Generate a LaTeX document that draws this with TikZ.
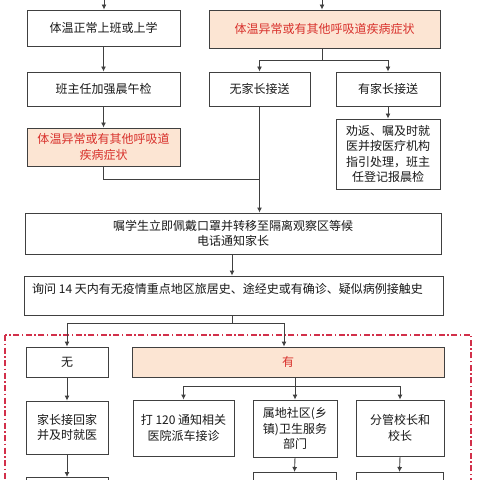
\documentclass[tikz,border=0pt]{standalone}
\usepackage{fontspec}
\setmainfont{Noto Sans CJK SC}
\usetikzlibrary{arrows.meta}
\definecolor{bordergray}{HTML}{404040}
\definecolor{redtext}{HTML}{D8302B}
\definecolor{peach}{HTML}{FCE5D3}
\definecolor{dashred}{HTML}{D2304A}
\tikzset{
  box/.style={draw=bordergray, line width=0.9bp, fill=white, inner sep=0pt, align=center,
    font=\fontsize{12bp}{15.5bp}\selectfont, text=black!90},
  redbox/.style={box, fill=peach, text=redtext},
  conn/.style={draw=bordergray, line width=0.9bp},
  arr/.style={conn, -{Latex[length=5bp,width=5bp]}},
  txt/.style={inner sep=0pt, font=\fontsize{12bp}{15.5bp}\selectfont, text=black!90}
}
\begin{document}
\begin{tikzpicture}[x=1bp,y=-1bp]
\clip (0,0) rectangle (480,480);
\fill[white] (0,0) rectangle (480,480);
% dash-dot region
\draw[dashred, line width=1.2bp, dash pattern=on 6bp off 2.5bp on 1.5bp off 2.5bp] (5,335) rectangle (471,520);

\node[box, minimum width=153bp, minimum height=36bp] (A) at (103.5,28) {体温正常上班或上学};
\node[box, minimum width=153bp, minimum height=34bp] (B) at (103.5,89) {班主任加强晨午检};
\node[redbox, minimum width=153bp, minimum height=38bp] (C) at (103.5,147) {体温异常或有其他呼吸道\\疾病症状};
\node[redbox, minimum width=231bp, minimum height=38bp] (D) at (324.5,29) {体温异常或有其他呼吸道疾病症状};
\node[box, minimum width=101bp, minimum height=34bp] (E) at (259.5,89) {无家长接送};
\node[box, minimum width=104bp, minimum height=34bp] (F) at (388,89) {有家长接送};
\node[box, minimum width=104bp, minimum height=70bp] (G) at (388,154) {劝返、嘱及时就\\医并按医疗机构\\指引处理，班主\\任登记报晨检};
\node[box, minimum width=416bp, minimum height=41bp] (H) at (233,233.5) {嘱学生立即佩戴口罩并转移至隔离观察区等候\\电话通知家长};
\node[box, minimum width=419bp, minimum height=39bp] (I) at (233.5,295.5) {};
\node[txt, anchor=west] (Itext) at (32,289) {询问 14 天内有无疫情重点地区旅居史、途经史或有确诊、疑似病例接触史};
\node[box, minimum width=82bp, minimum height=30bp] (J) at (67,362) {无};
\node[redbox, minimum width=312bp, minimum height=30bp] (K) at (288,362) {有};
\node[box, minimum width=101bp, minimum height=56bp] (L) at (183.5,428) {打 120 通知相关\\医院派车接诊};
\node[box, minimum width=84bp, minimum height=57bp] (M) at (295,428.5) {属地社区(乡\\镇)卫生服务\\部门};
\node[box, minimum width=88bp, minimum height=56bp] (N) at (400,428) {分管校长和\\校长};
\node[box, minimum width=82bp, minimum height=53bp] (O) at (67,427.5) {家长接回家\\并及时就医};
\node[box, minimum width=82bp, minimum height=50bp, anchor=north] (P) at (67,477) {};
\node[box, minimum width=83bp, minimum height=50bp, anchor=north] (Q) at (294.5,472) {};
\node[box, minimum width=87bp, minimum height=50bp, anchor=north] (R) at (399.5,472) {};

% top free ends
\coordinate (topA) at (104,-2);
\coordinate (topD) at (322,-2);
\draw[arr] (topA) -- (topA |- A.north);
\draw[arr] (topD) -- (topD |- D.north);

\draw[arr] (A.south) -- (B.north);
\draw[arr] (B.south) -- (C.north);

% D split
\coordinate (dj) at (322,60);
\draw[conn] (D.south -| dj) -- (dj);
\draw[arr] (dj) -| (E.north);
\draw[arr] (dj) -| (F.north);
\draw[arr] (F.south) -- (G.north);

% C and E into H
\coordinate (cj) at (259.5,179);
\draw[conn] (C.south) |- (cj);
\draw[arr] (E.south) -- (E.south |- H.north);

\draw[arr] (H.south -| 232,0) -- (I.north -| 232,0);

% I split
\coordinate (ij) at (232,323);
\coordinate (kin) at (284,323);
\draw[conn] (I.south -| ij) -- (ij);
\draw[arr] (ij) -| (J.north);
\draw[conn] (ij) -- (kin);
\draw[arr] (kin) -- (kin |- K.north);

% K split
\coordinate (kj) at (295,386);
\draw[conn] (K.south -| kj) -- (kj);
\draw[arr] (kj) -| (L.north);
\draw[arr] (kj) -- (M.north);
\draw[arr] (kj) -| (N.north);

\draw[arr] (J.south) -- (O.north);
\draw[arr] (O.south) -- (P.north);
\draw[arr] (M.south) -- (Q.north);
\draw[arr] (N.south) -- (R.north);
\end{tikzpicture}
\end{document}
